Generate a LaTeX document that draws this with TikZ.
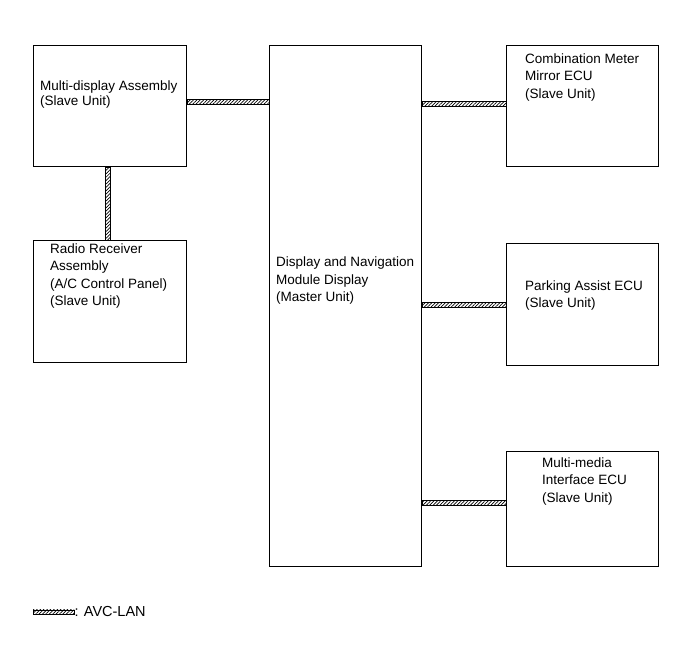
\documentclass[tikz,border=0pt]{standalone}
\usepackage{fontspec}
\setmainfont{Liberation Sans}
\usetikzlibrary{patterns.meta,calc}
\begin{document}
\begin{tikzpicture}[x=1pt,y=-1pt,
  box/.style={draw=black,line width=0.9pt,rectangle,anchor=north west,inner sep=0pt},
  txt/.style={anchor=north west,inner sep=0pt,align=left,font=\fontsize{13.5}{17.5}\selectfont},
  lan/.style={draw=black,line width=0.5pt,pattern={Lines[angle=45,distance=2.4pt,line width=0.7pt]}}]
\useasboundingbox (0,0) rectangle (691,660);
% boxes
\node[box,minimum width=153pt,minimum height=121pt] (A) at (33,45) {};
\node[box,minimum width=153pt,minimum height=122pt] (B) at (33,240) {};
\node[box,minimum width=152pt,minimum height=521pt] (M) at (269,45) {};
\node[box,minimum width=152pt,minimum height=121pt] (C) at (506,45) {};
\node[box,minimum width=152pt,minimum height=122pt] (P) at (506,243) {};
\node[box,minimum width=152pt,minimum height=115pt] (D) at (506,451) {};
% texts
\node[txt,font=\fontsize{13.5}{15.5}\selectfont] (tA) at (40,80.5) {Multi-display Assembly\\(Slave Unit)};
\node[txt] (tB) at (50,243.5) {Radio Receiver\\Assembly\\(A/C Control Panel)\\(Slave Unit)};
\node[txt] (tM) at (276,257) {Display and Navigation\\Module Display\\(Master Unit)};
\node[txt] (tC) at (525,53.5) {Combination Meter\\Mirror ECU\\(Slave Unit)};
\node[txt] (tP) at (525,280.5) {Parking Assist ECU\\(Slave Unit)};
\node[txt] (tD) at (542,457.5) {Multi-media\\Interface ECU\\(Slave Unit)};
% connectors (AVC-LAN)
\coordinate (a1) at (A.east |- 0,102);
\path[lan] ($(a1)+(0,-2.5)$) rectangle ($(M.west |- a1)+(0,2.5)$);
\coordinate (c1) at (M.east |- 0,104);
\path[lan] ($(c1)+(0,-2.5)$) rectangle ($(C.west |- c1)+(0,2.5)$);
\coordinate (p1) at (M.east |- 0,305);
\path[lan] ($(p1)+(0,-2.5)$) rectangle ($(P.west |- p1)+(0,2.5)$);
\coordinate (d1) at (M.east |- 0,503);
\path[lan] ($(d1)+(0,-2.5)$) rectangle ($(D.west |- d1)+(0,2.5)$);
\coordinate (b1) at (A.south -| 108,0);
\path[lan] ($(b1)+(-2.5,0)$) rectangle ($(B.north -| b1)+(2.5,0)$);
% legend
\coordinate (l1) at (33,612);
\coordinate (l2) at (74,612);
\path[lan] ($(l1)+(0,-2.2)$) rectangle ($(l2)+(0,2.2)$);
\node[anchor=west,inner sep=0pt,font=\fontsize{14.5}{17.5}\selectfont] (leg) at ($(l2)+(0.3,0)$) {: AVC-LAN};
\end{tikzpicture}
\end{document}
